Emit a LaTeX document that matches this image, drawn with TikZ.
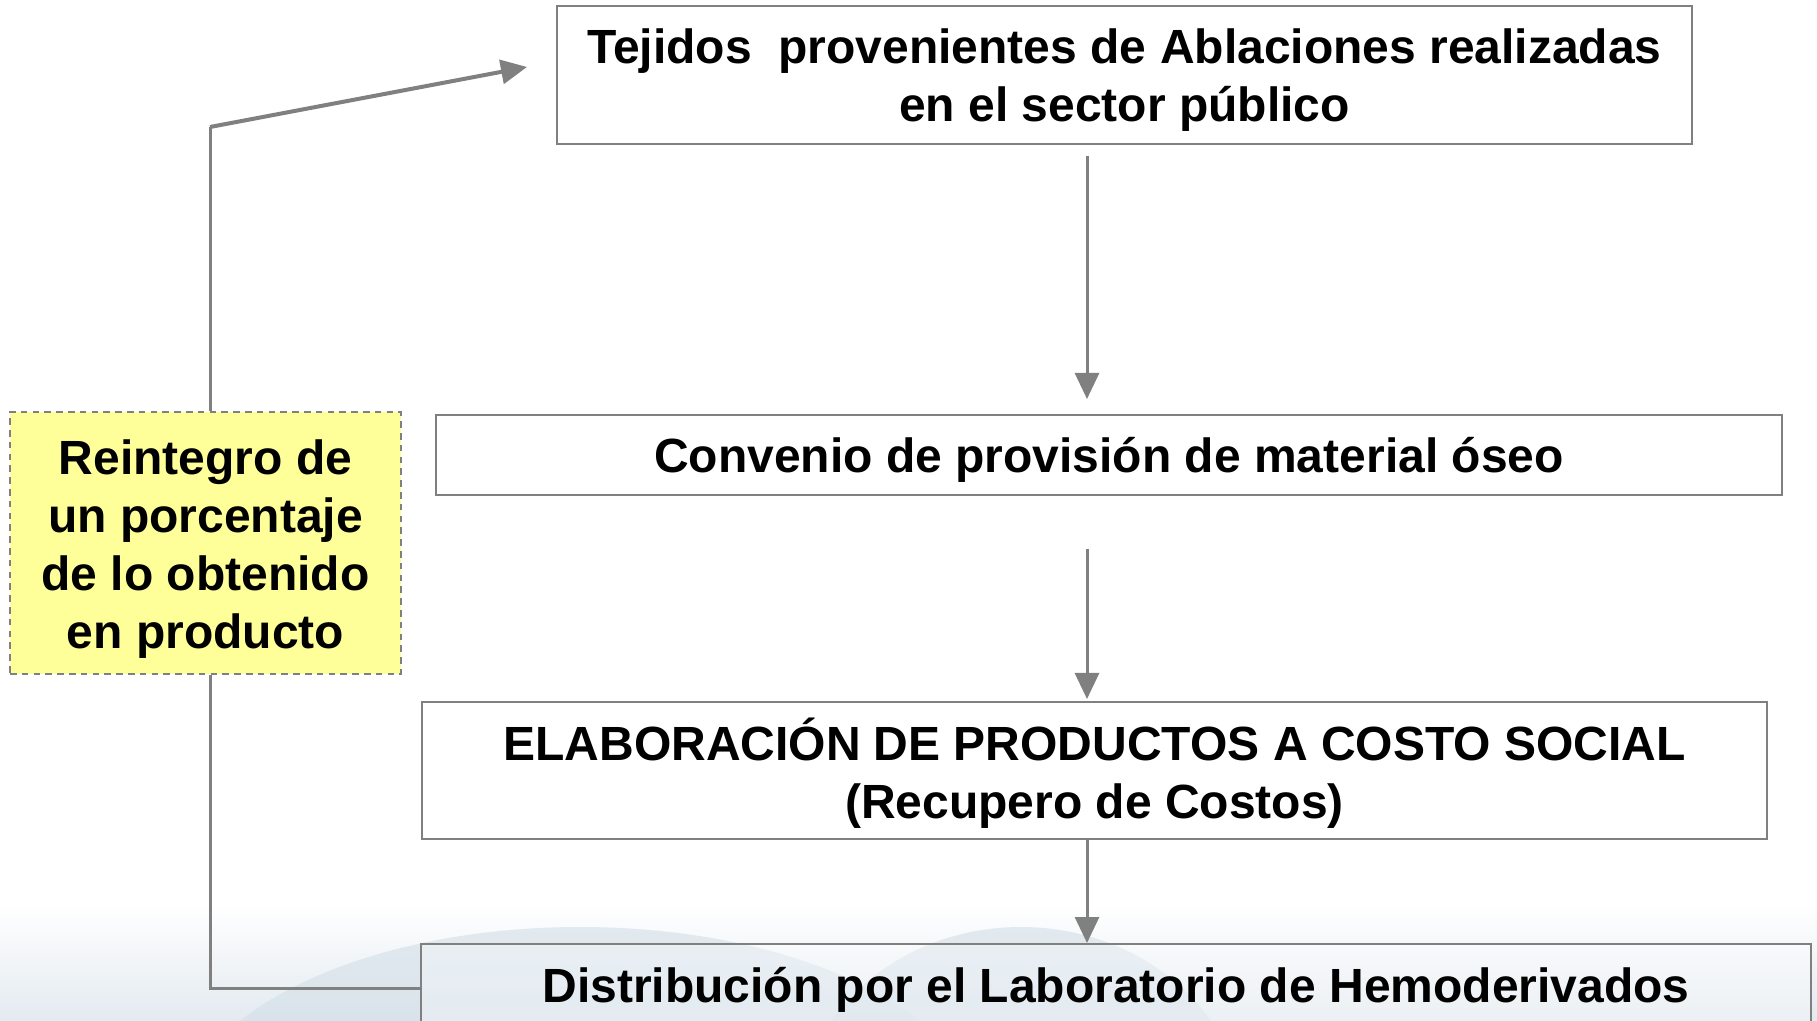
\documentclass[tikz,border=0pt]{standalone}
\usepackage{fontspec}
\setmainfont{Liberation Sans}
\usetikzlibrary{arrows.meta,calc}
\definecolor{lgray}{HTML}{808080}
\definecolor{bgblue}{HTML}{E3EAF0}
\definecolor{hill}{HTML}{D3DFE8}
\definecolor{yel}{HTML}{FFFF99}
\begin{document}
\begin{tikzpicture}[x=0.5pt,y=-0.5pt,
  txt/.style={align=center, font=\fontsize{24}{29}\selectfont\bfseries, text=black, inner sep=0pt},
  box/.style={draw=lgray, line width=1pt, fill=white, inner sep=0pt},
  conn/.style={draw=lgray, line width=1.5pt},
  arr/.style={conn, -{Triangle[width=12pt,length=13pt]}},
]
\useasboundingbox (0,0) rectangle (1817,1021);
\fill[white] (0,0) rectangle (1817,906);
\shade[top color=white, bottom color=bgblue] (0,905) rectangle (1817,1021);
\begin{scope}
  \clip (0,905) rectangle (1817,1021);
  \fill[hill, opacity=0.6] (580,1127) ellipse [x radius=401, y radius=200];
  \fill[hill, opacity=0.6] (1021,1127) ellipse [x radius=224, y radius=200];
\end{scope}

\node[box, minimum width=567.5pt, minimum height=69pt] (t1) at (1124.5,75) {};
\node[txt] (t1t) at ([yshift=-2.5pt]t1.center)
  {Tejidos\ \ provenientes de Ablaciones realizadas\\en el sector público};
\node[box, minimum width=673pt, minimum height=40pt] (t2) at (1109,455) {};
\node[txt] (t2t) at ([yshift=-2.5pt]t2.center)
  {Convenio de provisión de material óseo};
\node[box, minimum width=672.5pt, minimum height=68.5pt] (t3) at (1094.5,770.5) {};
\node[txt] (t3t) at ([yshift=-1.2pt]t3.center)
  {ELABORACIÓN DE PRODUCTOS A COSTO SOCIAL\\(Recupero de Costos)};
\node[box, fill opacity=0.3, minimum width=695pt, minimum height=60pt, anchor=north] (t4) at (1116,943) {};
\node[txt] (t4t) at (1116,990) {Distribución por el Laboratorio de Hemoderivados};

\node[draw=lgray, dash pattern=on 3.3pt off 2.6pt, line width=1.3pt, fill=yel,
  inner sep=0pt, minimum width=195.5pt, minimum height=131pt] (re) at (205.5,543) {};
\node[txt] (ret) at ([yshift=-3pt]re.center)
  {Reintegro de\\un porcentaje\\de lo obtenido\\en producto};

\coordinate (ax) at (1087,0);
\coordinate (lx) at (210,0);
\coordinate (by) at (0,988);
\coordinate (bend) at (210,127);
\coordinate (tip) at (527,67);

\draw[conn] (re.north -| lx) -- (bend);
\draw[arr, line width=2pt] (bend) -- (tip);
\draw[conn] (re.south -| lx) |- (t4.west |- by);

\draw[arr, shorten <=5.5pt, shorten >=7.5pt] (t1.south -| ax) -- (t2.north -| ax);
\draw[arr, shorten <=26.5pt, shorten >=1pt] (t2.south -| ax) -- (t3.north -| ax);
\draw[arr] (t3.south -| ax) -- (t4.north -| ax);
\end{tikzpicture}
\end{document}
